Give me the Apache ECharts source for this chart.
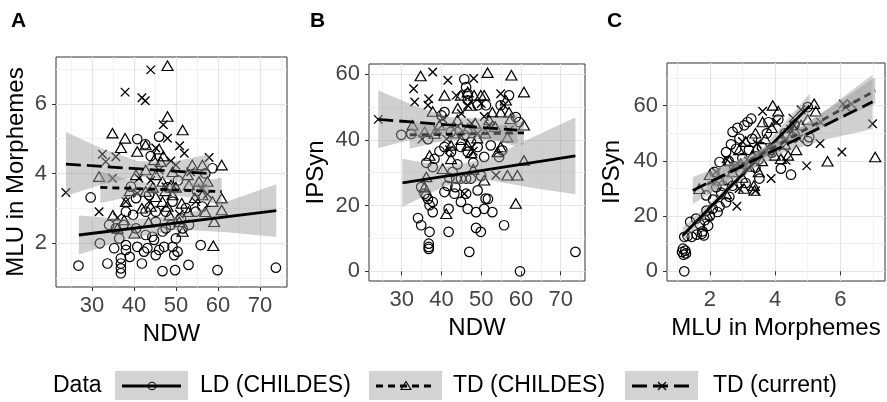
<!DOCTYPE html>
<html><head><meta charset="utf-8">
<script src="https://cdn.jsdelivr.net/npm/echarts@6/dist/echarts.min.js"></script>
<style>html,body{margin:0;padding:0;background:#fff}#c{width:887px;height:402px}</style>
</head><body><div id="c"></div>
<script>
const FONT = "'Liberation Sans', Arial, Helvetica, sans-serif";
const groupNames = ['LD (CHILDES)', 'TD (CHILDES)', 'TD (current)'];
const legendTitle = 'Data';
const panelTags = ['A', 'B', 'C'];
const xTitles = ['NDW', 'NDW', 'MLU in Morphemes'];
const yTitles = ['MLU in Morphemes', 'IPSyn', 'IPSyn'];

const xTicksA = [30, 40, 50, 60, 70], xMinorA = [25, 35, 45, 55, 65, 75];
const yTicksA = [2, 4, 6], yMinorA = [1, 3, 5, 7];
const xTicksB = [30, 40, 50, 60, 70], xMinorB = [25, 35, 45, 55, 65, 75];
const yTicksB = [0, 20, 40, 60], yMinorB = [10, 30, 50];
const xTicksC = [2, 4, 6], xMinorC = [1, 3, 5, 7];
const yTicksC = [0, 20, 40, 60], yMinorC = [10, 30, 50, 70];

// Panel A: NDW vs MLU
const ldA = [[26.8,1.35],[33.7,1.41],[36.9,1.56],[36.9,1.41],[36.9,1.27],[36.9,1.13],[41.9,1.41],[46.8,1.19],[49.8,1.22],[53.0,1.37],[59.9,1.22],[73.8,1.29],
[29.7,3.31],[31.9,1.99],[35.3,1.85],[38.1,1.80],[38.1,1.94],[40.8,1.89],[42.4,1.75],[43.2,1.85],[44.8,2.09],[45.2,1.65],[47.2,1.89],[49.2,1.89],[49.6,1.65],[50.4,1.75],[55.9,1.94],
[39.8,2.81],[40.8,4.99],[42.7,4.84],[46.0,5.06],[39.3,3.62],[40.5,3.29],[42.8,2.90],[45.2,2.61],[47.6,2.42],[50.0,2.13],[51.6,2.42],[53.1,2.52],[54.7,2.90],[56.3,3.05],[58.7,4.15],
[35.7,2.42],[34.1,2.52],[36.5,2.13],[40.5,2.42],[42.8,2.23],[44.4,2.18],[46.8,2.33],[48.8,2.52],[51.2,2.71],[52.4,3.00],[47.6,2.90],[45.2,2.90],[49.2,3.19],[43.6,3.38],[38.1,2.90],[39.0,1.60],[37.5,2.52],[46.0,1.80],[48.0,3.60],[44.0,4.50],[50.5,3.80],[55.0,3.50],[57.0,4.00]];
const tdA = [[48.0,7.10],[48.0,5.64],[51.6,5.25],[34.9,5.16],[37.9,5.01],[36.9,4.74],[42.8,4.82],[40.8,4.63],[46.0,4.70],[31.7,3.91],[60.9,4.24],[56.3,4.24],[53.9,4.24],[44.8,4.39],[47.0,4.50],
[38.1,3.19],[42.8,3.48],[41.9,3.00],[48.0,3.05],[51.4,3.14],[58.7,3.19],[60.9,3.29],[60.9,2.95],[59.1,2.61],[37.7,2.66],[36.1,2.42],[40.1,2.28],[50.8,2.61],[51.6,2.33],[58.9,1.92],
[45.2,3.96],[46.8,3.77],[48.8,3.67],[49.2,3.38],[53.1,3.67],[55.5,3.77],[57.5,3.77],[56.3,3.38],[45.2,3.33],[46.8,3.19],[44.0,3.05],[40.5,3.96],[42.8,4.10],[52.8,3.96],[49.2,4.05],[46.4,4.34],
[47.5,3.50],[50.0,3.60],[44.5,3.60],[54.5,3.30],[39.0,3.50],[35.0,2.80],[43.5,2.60],[48.5,2.80],[57.0,2.90],[53.0,2.90]];
const curA = [[44.0,6.98],[37.9,6.34],[41.9,6.18],[42.7,6.09],[47.0,5.40],[48.0,5.01],[50.9,4.80],[52.0,4.58],[32.5,4.55],[35.7,4.48],[33.3,4.34],[48.8,4.36],[57.9,4.46],[23.8,3.45],[31.7,2.90],
[36.1,2.73],[40.8,3.43],[57.5,3.40],[50.8,2.83],[45.2,4.73],[41.2,3.86],[34.9,3.86],[47.6,3.62],[53.5,4.05],[43.6,3.19],[54.7,3.19],[50.0,4.24],[56.3,3.57],[38.1,3.19],[46.0,4.10],[44.0,3.80]];
const ldLineA = [[26.9,2.23],[73.9,2.93]];
const tdLineA = [[32.0,3.60],[60.9,3.48]];
const curLineA = [[23.8,4.27],[57.9,4.00]];
// bands: [x, lower, upper]
const ldBandA = [[26.9,1.67,2.79],[38.6,2.12,2.68],[50.4,2.39,2.77],[62.2,2.31,3.19],[73.9,2.17,3.69]];
const tdBandA = [[32.0,3.15,4.05],[39.2,3.33,3.81],[46.5,3.42,3.66],[53.7,3.30,3.72],[60.9,3.08,3.88]];
const curBandA = [[23.8,3.35,5.19],[32.3,3.68,4.72],[40.9,3.92,4.36],[49.4,3.80,4.34],[57.9,3.45,4.55]];

// Panel B: NDW vs IPSyn
const ldB = [[59.75,0],[73.7,5.9],[47.0,5.9],[36.8,8.4],[36.8,7.4],[36.8,6.8],[34.1,16.2],[34.9,14.0],[37.0,12.0],[41.8,12.0],[48.7,13.2],[49.9,12.0],[55.75,14.0],[37.0,20.1],[37.8,18.0],[37.8,21.1],
[41.8,19.0],[44.9,21.1],[46.6,19.0],[48.7,18.0],[50.75,19.0],[52.8,18.0],[51.1,22.1],[51.7,22.0],[40.75,24.1],[43.25,23.6],[46.2,23.6],[49.1,24.6],[41.5,26.0],[43.5,25.6],[34.9,25.6],[35.75,23.6],
[36.2,23.0],[36.6,22.0],[42.0,28.4],[43.7,28.2],[44.9,28.2],[46.2,28.2],[47.4,28.2],[42.8,30.2],[37.8,31.7],[36.2,33.0],[38.25,34.2],[39.5,36.5],[40.75,37.8],[42.4,36.3],[44.9,37.8],[46.6,36.3],
[49.1,37.8],[50.75,34.8],[52.4,38.3],[54.5,34.75],[55.3,36.8],[40.75,48.4],[40.0,47.4],[45.75,58.4],[46.2,56.0],[46.6,54.0],[46.6,52.0],[49.1,50.5],[51.2,50.5],[54.9,50.5],[57.0,53.5],[58.7,46.9],
[59.5,45.4],[29.9,41.5],[32.4,41.8],[42.4,42.4],[45.75,41.4],[47.4,39.3],[36.6,40.2],[48.0,33.0],[44.0,32.5],[50.0,29.0]];
const tdB = [[34.75,59.4],[51.6,60.4],[57.6,59.6],[60.75,54.5],[40.75,53.5],[44.9,53.5],[46.6,54.5],[48.2,53.5],[49.9,53.5],[50.75,53.5],[56.2,52.0],[37.8,48.6],[44.1,49.6],[47.4,50.4],[52.8,48.4],
[54.9,48.4],[57.0,48.4],[60.75,44.4],[57.4,46.4],[32.7,44.4],[35.75,42.4],[38.25,41.9],[56.6,40.8],[54.9,37.8],[54.1,36.3],[42.4,38.3],[46.6,38.3],[40.3,31.2],[37.0,35.2],[36.2,28.7],[35.75,25.6],
[41.2,17.5],[50.75,27.7],[56.6,29.2],[59.1,29.2],[60.75,33.7],[58.7,20.6],[46.6,43.4],[42.4,34.2],[44.0,46.0],[48.5,45.0],[51.0,42.0],[53.5,44.0],[39.5,44.5],[45.0,40.0],[49.0,40.5],[43.0,42.0],
[52.0,46.0],[47.5,36.0],[48.0,31.0]];
const curB = [[24.1,46.2],[37.8,60.6],[41.6,58.1],[48.1,58.6],[33.0,55.5],[33.25,51.5],[36.8,52.5],[36.6,50.5],[43.7,53.5],[54.9,54.0],[55.7,50.5],[40.3,46.4],[53.7,29.2],[45.75,23.6],[46.6,50.5],
[44.1,44.1],[50.75,47.1],[49.1,42.0],[35.1,40.2],[41.3,40.2],[47.5,45.0],[52.0,44.5],[45.0,48.0],[39.0,43.0],[57.0,43.0],[50.0,51.0],[42.0,37.0],[48.0,36.5]];
const ldLineB = [[30.2,26.9],[73.7,35.1]];
const tdLineB = [[32.0,41.5],[60.75,42.1]];
const curLineB = [[24.1,46.2],[59.1,42.9]];
const ldBandB = [[30.2,19.6,34.2],[41.1,26.0,31.9],[52.0,27.7,34.3],[62.8,25.4,40.7],[73.7,23.4,46.8]];
const tdBandB = [[32.0,37.3,45.7],[39.2,39.3,44.0],[46.4,40.2,43.4],[53.6,39.8,44.1],[60.75,38.4,45.8]];
const curBandB = [[24.1,37.45,54.95],[32.85,40.2,50.6],[41.6,42.1,46.9],[50.35,40.9,46.5],[59.1,37.9,47.9]];

// Panel C: MLU vs IPSyn
const ldC = [[1.22,0],[1.15,7.0],[1.20,6.0],[1.25,7.5],[1.18,8.2],[1.27,6.5],[1.22,12.5],[1.32,12.8],[1.45,12.5],[1.60,13.3],[1.76,13.6],[1.82,13.0],[1.78,14.5],[1.40,17.9],[1.58,19.1],[1.70,17.0],
[1.85,18.5],[2.00,20.0],[1.90,22.0],[2.09,22.7],[2.24,21.5],[2.30,23.5],[2.50,25.0],[2.10,26.0],[1.89,27.5],[2.35,28.5],[2.60,27.0],[2.40,31.0],[2.14,36.0],[2.30,39.6],[2.58,40.0],[2.50,43.2],
[2.70,50.5],[2.91,48.1],[2.81,44.4],[3.06,52.9],[3.16,54.1],[3.27,55.3],[2.85,52.0],[2.65,46.0],[2.75,38.0],[3.00,41.0],[2.95,36.0],[3.20,44.0],[3.52,33.6],[3.40,37.5],[3.30,48.0],[3.60,45.0],
[3.75,50.0],[3.90,43.0],[4.18,37.2],[4.49,35.0],[5.00,47.2],[5.05,48.6],[4.30,50.0],[4.60,53.0],[5.00,59.5],[4.10,55.0],[2.20,30.5],[2.55,33.0],[3.10,32.0],[1.95,16.5],[2.70,31.0],[3.50,40.5],[3.80,54.0]];
const tdC = [[3.93,60.1],[5.20,60.7],[7.07,41.4],[5.61,39.9],[3.37,29.3],[3.35,31.0],[3.62,54.1],[4.00,42.0],[4.18,40.8],[4.60,51.0],[3.20,38.0],[1.68,29.9],[2.00,35.0],[2.30,33.0],[2.60,40.0],
[2.90,44.0],[3.10,47.0],[3.40,50.0],[3.70,48.0],[3.90,52.0],[4.30,46.0],[4.50,49.0],[4.80,53.0],[5.00,55.0],[3.00,34.0],[3.30,42.0],[3.50,36.0],[4.10,58.0],[3.80,44.0],[2.70,36.0],[3.60,40.0],
[4.40,42.0],[1.92,20.6],[2.50,28.0],[3.05,30.0],[4.20,48.5],[3.45,45.0],[2.95,39.0],[5.25,58.0],[4.65,44.0]];
const curC = [[6.99,53.5],[6.05,43.2],[5.38,46.3],[4.97,38.2],[4.34,40.2],[3.88,33.6],[3.62,58.0],[2.50,40.8],[2.20,36.0],[4.30,47.0],[3.00,47.0],[6.17,59.5],[6.09,60.6],[6.34,60.6],[4.80,58.5],
[5.40,54.0],[4.55,55.5],[4.48,51.5],[4.58,53.0],[3.45,46.2],[2.90,30.0],[2.73,38.0],[3.43,42.0],[3.40,29.2],[2.83,23.6],[4.73,48.0],[3.86,44.0],[4.05,54.0],[3.19,40.0],[4.24,45.0],[3.57,43.0]];
const ldLineC = [[1.17,13.0],[5.06,60.0]];
const tdLineC = [[1.92,31.5],[7.07,65.5]];
const curLineC = [[1.48,29.3],[6.99,61.4]];
const ldBandC = [[1.17,10.0,16.0],[2.14,23.5,26.1],[3.12,35.1,37.9],[4.09,45.5,51.1],[5.06,55.7,64.3]];
const tdBandC = [[1.92,27.3,35.7],[3.21,38.3,41.7],[4.50,46.9,50.1],[5.78,54.0,60.0],[7.07,60.7,70.3]];
const curBandC = [[1.48,24.4,34.2],[2.86,34.3,40.3],[4.24,43.0,47.8],[5.61,47.9,58.9],[6.99,51.6,71.2]];

// ---------- layout / style ----------
const panels = [
  {grid:{left:56,top:57,width:231,height:230}, x:[21.45,76.45], y:[0.734,7.35], xt:xTicksA, xm:xMinorA, yt:yTicksA, ym:yMinorA,
   pts:[ldA,tdA,curA], lines:[ldLineA,tdLineA,curLineA], bands:[ldBandA,tdBandA,curBandA], yGap:28, tagX:6},
  {grid:{left:369,top:64,width:216,height:217}, x:[21.77,76.11], y:[-2.95,63.04], xt:xTicksB, xm:xMinorB, yt:yTicksB, ym:yMinorB,
   pts:[ldB,tdB,curB], lines:[ldLineB,tdLineB,curLineB], bands:[ldBandB,tdBandB,curBandB], yGap:41, tagX:305},
  {grid:{left:667,top:63,width:218,height:218}, x:[0.69,7.37], y:[-3.5,75.47], xt:xTicksC, xm:xMinorC, yt:yTicksC, ym:yMinorC,
   pts:[ldC,tdC,curC], lines:[ldLineC,tdLineC,curLineC], bands:[ldBandC,tdBandC,curBandC], yGap:43, tagX:602}
];
const SYMBOLS = ['circle', 'triangle', 'path://M0,0L10,10M10,0L0,10'];
const SIZES = [9.5, [11, 9.5], 8.5];
const STROKES = [1.2, 1.2, 1.35];
const DASHES = ['solid', [7, 5], [15, 6]];
const BAND_FILL = 'rgba(150,150,150,0.45)';

const grids = [], xAxes = [], yAxes = [], series = [], titles = [];
panels.forEach((p, i) => {
  grids.push(Object.assign({show:true, borderColor:'#333', borderWidth:1, backgroundColor:'#fff', containLabel:false}, p.grid));
  const common = {type:'value', gridIndex:i};
  xAxes.push(Object.assign({}, common, {min:p.x[0], max:p.x[1], position:'bottom',
    name:xTitles[i], nameLocation:'middle', nameGap:34, nameTextStyle:{fontFamily:FONT, fontSize:24, color:'#000'},
    axisLine:{show:false}, axisTick:{show:true, length:4, lineStyle:{color:'#333'}, customValues:p.xt},
    axisLabel:{customValues:p.xt, fontFamily:FONT, fontSize:22, color:'#444', margin:8},
    splitLine:{show:true, lineStyle:{color:'#e4e4e4', width:1.2}}}));
  xAxes.push(Object.assign({}, common, {min:p.x[0], max:p.x[1], position:'bottom',
    axisLine:{show:false}, axisTick:{show:false, customValues:p.xm}, axisLabel:{show:false, customValues:p.xm},
    splitLine:{show:true, lineStyle:{color:'#efefef', width:0.8}}}));
  yAxes.push(Object.assign({}, common, {min:p.y[0], max:p.y[1], position:'left',
    name:yTitles[i], nameLocation:'middle', nameGap:p.yGap, nameTextStyle:{fontFamily:FONT, fontSize:24, color:'#000'},
    axisLine:{show:false}, axisTick:{show:true, length:4, lineStyle:{color:'#333'}, customValues:p.yt},
    axisLabel:{customValues:p.yt, fontFamily:FONT, fontSize:22, color:'#444', margin:9},
    splitLine:{show:true, lineStyle:{color:'#e4e4e4', width:1.2}}}));
  yAxes.push(Object.assign({}, common, {min:p.y[0], max:p.y[1], position:'left',
    axisLine:{show:false}, axisTick:{show:false, customValues:p.ym}, axisLabel:{show:false, customValues:p.ym},
    splitLine:{show:true, lineStyle:{color:'#efefef', width:0.8}}}));
  titles.push({text:panelTags[i], left:p.tagX, top:6, textStyle:{fontFamily:FONT, fontSize:21, fontWeight:'bold', color:'#000'}});

  p.pts.forEach((pts, g) => series.push({
    type:'scatter', name:groupNames[g], xAxisIndex:2*i, yAxisIndex:2*i, data:pts,
    symbol:SYMBOLS[g], symbolSize:SIZES[g], silent:true, z:2,
    itemStyle:{color:'rgba(0,0,0,0)', borderColor:'#000', borderWidth:STROKES[g], opacity:1}
  }));
  p.bands.forEach((band, g) => {
    series.push({
      type:'custom', xAxisIndex:2*i, yAxisIndex:2*i, silent:true, z:10 + 2*g,
      data:[[band[0][0], band[0][1]]],
      renderItem:(params, api) => {
        const pts = [];
        band.forEach(r => pts.push(api.coord([r[0], r[2]])));
        band.slice().reverse().forEach(r => pts.push(api.coord([r[0], r[1]])));
        return {type:'polygon', shape:{points:pts}, style:{fill:BAND_FILL}};
      }
    });
    series.push({
      type:'line', xAxisIndex:2*i, yAxisIndex:2*i, data:p.lines[g], symbol:'none', silent:true, z:11 + 2*g,
      lineStyle:{color:'#000', width:2.8, type:DASHES[g]}
    });
  });
});

// legend drawn as graphics from groupNames
const legendKeyX = [115, 369, 625];
const legendTextX = [200, 453, 713];
const LY = 386;
const graphics = [{type:'text', x:53, y:LY, style:{text:legendTitle, font:`23px ${FONT}`, fill:'#000', verticalAlign:'middle'}}];
groupNames.forEach((nm, g) => {
  const kx = legendKeyX[g], cx = kx + 37;
  graphics.push({type:'rect', shape:{x:kx, y:371, width:73, height:29}, style:{fill:'#d3d3d3'}});
  graphics.push({type:'line', shape:{x1:kx+7, y1:LY, x2:kx+66, y2:LY},
    style:{stroke:'#000', lineWidth:2.8, lineDash: g === 0 ? null : DASHES[g]}});
  if (g === 0) graphics.push({type:'circle', shape:{cx:cx, cy:LY, r:3.8}, style:{fill:'none', stroke:'#000', lineWidth:1.1}});
  if (g === 1) graphics.push({type:'polygon', shape:{points:[[cx, LY-4.5], [cx+5, LY+3.5], [cx-5, LY+3.5]]}, style:{fill:'none', stroke:'#000', lineWidth:1.1}});
  if (g === 2) {
    graphics.push({type:'line', shape:{x1:cx-4, y1:LY-4, x2:cx+4, y2:LY+4}, style:{stroke:'#000', lineWidth:1.3}});
    graphics.push({type:'line', shape:{x1:cx+4, y1:LY-4, x2:cx-4, y2:LY+4}, style:{stroke:'#000', lineWidth:1.3}});
  }
  graphics.push({type:'text', x:legendTextX[g], y:LY, style:{text:nm, font:`23px ${FONT}`, fill:'#000', verticalAlign:'middle'}});
});

const chart = echarts.init(document.getElementById('c'), null, {renderer:'canvas'});
chart.setOption({
  animation:false, backgroundColor:'#fff',
  title:titles, grid:grids, xAxis:xAxes, yAxis:yAxes, series:series, graphic:graphics
});
</script></body></html>
